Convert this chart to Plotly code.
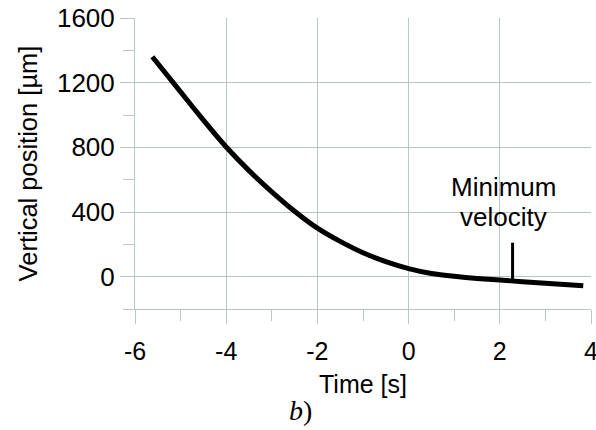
import plotly.graph_objects as go

# Measured trajectory: time [s] vs vertical position [µm]
time_s = [-5.62, -5.0, -4.5, -4.0, -3.5, -3.0, -2.5, -2.0, -1.5, -1.0,
          -0.5, 0.0, 0.5, 1.0, 1.5, 2.0, 2.5, 3.0, 3.5, 3.83]
position_um = [1360, 1143, 968, 802, 656, 525, 405, 300, 218, 148,
               93, 50, 20, 2, -11, -21, -31, -41, -50, -56]

# Point of minimum velocity
min_vel_t = 2.28
min_vel_marker = [-22, 210]

x_ticks = [-6, -4, -2, 0, 2, 4]
y_ticks = [0, 400, 800, 1200, 1600]

grid_col = "#b9c6c6"
font_fam = "Liberation Sans, Arial, sans-serif"

fig = go.Figure()
fig.add_trace(go.Scatter(
    x=time_s, y=position_um, mode="lines",
    line=dict(color="black", width=5, shape="spline", smoothing=0.5),
    showlegend=False, hoverinfo="skip",
))

fig.add_shape(type="line", x0=min_vel_t, x1=min_vel_t,
              y0=min_vel_marker[0], y1=min_vel_marker[1],
              line=dict(color="black", width=3))

fig.add_annotation(x=2.09, y=555, text="Minimum", showarrow=False,
                   font=dict(family=font_fam, size=26, color="black"))
fig.add_annotation(x=2.09, y=370, text="velocity", showarrow=False,
                   font=dict(family=font_fam, size=26, color="black"))
fig.add_annotation(x=0.362, y=-0.35, xref="paper", yref="paper",
                   xanchor="center", yanchor="middle",
                   text="<i>b</i>)", showarrow=False,
                   font=dict(family="Liberation Serif, Times New Roman, serif",
                             size=28, color="black"))

axis_common = dict(
    showgrid=True, gridcolor=grid_col, gridwidth=1,
    showline=True, linecolor=grid_col, linewidth=1,
    ticks="outside", tickcolor=grid_col, tickwidth=1, ticklen=14,
    zeroline=False,
)

fig.update_xaxes(
    range=[-6, 4], tickvals=x_ticks, ticktext=[str(v) for v in x_ticks],
    tickfont=dict(family=font_fam, size=25, color="black"),
    ticklabelstandoff=6, ticklabeloverflow="allow",
    minor=dict(dtick=1, tick0=-6, ticks="outside", ticklen=11,
               tickcolor=grid_col, showgrid=False),
    title=dict(text="Time [s]", font=dict(family=font_fam, size=25, color="black"),
               standoff=11),
    **axis_common,
)
fig.update_yaxes(
    range=[-200, 1600], tickvals=y_ticks, ticktext=[str(v) for v in y_ticks],
    tickfont=dict(family=font_fam, size=26, color="black"),
    minor=dict(dtick=200, tick0=-200, ticks="outside", ticklen=11,
               tickcolor=grid_col, showgrid=False),
    title=dict(text="Vertical position [µm]",
               font=dict(family=font_fam, size=25.5, color="black"), standoff=12),
    **axis_common,
)

fig.update_layout(
    width=596, height=430,
    margin=dict(l=135, r=5, t=18, b=121, autoexpand=False),
    paper_bgcolor="white", plot_bgcolor="white",
)

fig.write_html("out.html")
